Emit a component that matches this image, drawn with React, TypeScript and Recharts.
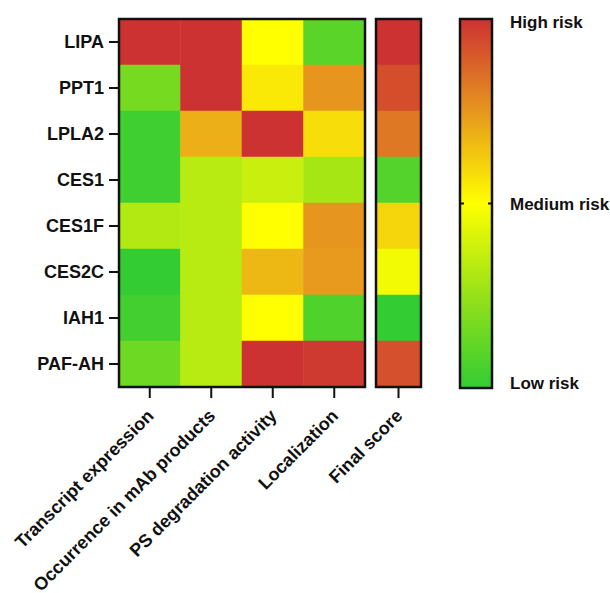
import React from "react";
import {
  BarChart,
  Bar,
  XAxis,
  YAxis,
  Cell,
  ReferenceLine,
} from "recharts";

// ─── Data ──────────────────────────────────────────────────────────────────
// risk score per enzyme, 0 = low risk, 0.5 = medium, 1 = high risk
const enzymes = ["LIPA", "PPT1", "LPLA2", "CES1", "CES1F", "CES2C", "IAH1", "PAF-AH"];
const criteria = [
  "Transcript expression",
  "Occurrence in mAb products",
  "PS degradation activity",
  "Localization",
];
const transcriptExpression = [1, 0.17, 0.03, 0.03, 0.32, 0.0, 0.04, 0.15];
const occurrenceInMAb = [1, 1, 0.69, 0.33, 0.33, 0.33, 0.33, 0.33];
const psDegradation = [0.5, 0.555, 1, 0.37, 0.5, 0.67, 0.5, 1];
const localization = [0.1, 0.75, 0.58, 0.29, 0.75, 0.74, 0.07, 0.98];
const finalScore = [1, 0.93, 0.825, 0.08, 0.6, 0.47, 0.0, 0.925];
const scaleTicks = [0, 0.5, 1];
const scaleLabels = ["Low risk", "Medium risk", "High risk"];

const series = [transcriptExpression, occurrenceInMAb, psDegradation, localization];

// ─── Colour scale ──────────────────────────────────────────────────────────
const STOPS: [number, number[]][] = [
  [0, [51, 204, 51]],
  [0.25, [150, 225, 25]],
  [0.5, [255, 255, 0]],
  [0.75, [230, 150, 30]],
  [1, [205, 50, 50]],
];

function riskColor(v: number) {
  for (let i = 1; i < STOPS.length; i++) {
    const [t1, c1] = STOPS[i];
    const [t0, c0] = STOPS[i - 1];
    if (v <= t1) {
      const f = (v - t0) / (t1 - t0);
      const c = c0.map((a, k) => Math.round(a + (c1[k] - a) * f));
      return `rgb(${c[0]},${c[1]},${c[2]})`;
    }
  }
  const c = STOPS[STOPS.length - 1][1];
  return `rgb(${c[0]},${c[1]},${c[2]})`;
}

const FONT = "'Liberation Sans', Arial, sans-serif";
const INK = "#111";
const W = 610;
const H = 593;
const TOP = 19;
const XAXIS_H = 206;
const FS = 18;

const heatRows = enzymes.map((name) => ({ name, c0: 1, c1: 1, c2: 1, c3: 1 }));
const finalRows = enzymes.map((name) => ({ name, f: 1 }));
const scaleRows = [{ name: "scale", v: 1 }];

function SlantTick(props: any) {
  const { x, y, payload, labels } = props;
  const ax = x + 5;
  const ay = y + 17;
  const label = labels[Math.floor(payload.value)];
  return (
    <text
      x={ax}
      y={ay}
      textAnchor="end"
      transform={`rotate(-45 ${ax} ${ay})`}
      fill={INK}
      fontSize={FS}
      fontWeight={700}
      fontFamily={FONT}
    >
      {label}
    </text>
  );
}

function RiskTick(props: any) {
  const { x, y, payload } = props;
  const i = scaleTicks.indexOf(payload.value);
  const shift = payload.value === 1 ? 9 : payload.value === 0 ? 1 : 6;
  return (
    <text
      x={x}
      y={y + shift}
      textAnchor="start"
      fill={INK}
      fontSize={17}
      fontWeight={700}
      fontFamily={FONT}
    >
      {scaleLabels[i]}
    </text>
  );
}

// black frame drawn in its own layer so it sits over the cells
function Frame({ left, right, max }: { left: number; right: number; max: number }) {
  return (
    <BarChart
      width={W}
      height={H}
      data={[{ name: "frame", v: max }]}
      layout="vertical"
      margin={{ top: TOP, right: W - right, bottom: H - 387, left }}
      barCategoryGap={0}
    >
      <XAxis type="number" domain={[0, max]} hide />
      <YAxis type="category" dataKey="name" hide />
      <Bar
        dataKey="v"
        fill="none"
        stroke={INK}
        strokeWidth={2.5}
        isAnimationActive={false}
      />
    </BarChart>
  );
}

export default function App() {
  const layer: React.CSSProperties = { position: "absolute", left: 0, top: 0 };
  return (
    <div
      style={{
        position: "absolute",
        left: 0,
        top: 0,
        width: W,
        height: H,
        background: "#fff",
        fontFamily: FONT,
      }}
    >
      {/* main heatmap */}
      <div style={layer}>
        <BarChart
          width={W}
          height={H}
          data={heatRows}
          layout="vertical"
          margin={{ top: TOP, right: W - 365, bottom: 0, left: 0 }}
          barCategoryGap={0}
        >
          <XAxis
            type="number"
            domain={[0, 4]}
            ticks={[0.5, 1.5, 2.5, 3.5]}
            height={XAXIS_H}
            axisLine={false}
            tickSize={11}
            tickLine={{ stroke: INK, strokeWidth: 2 }}
            tick={<SlantTick labels={criteria} />}
            interval={0}
          />
          <YAxis
            type="category"
            dataKey="name"
            width={119}
            axisLine={false}
            tickSize={10}
            tickMargin={5}
            tickLine={{ stroke: INK, strokeWidth: 2 }}
            tick={{ fill: INK, fontSize: FS, fontWeight: 700, fontFamily: FONT }}
            interval={0}
          />
          {series.map((vals, s) => (
            <Bar key={s} dataKey={`c${s}`} stackId="a" isAnimationActive={false}>
              {vals.map((v, i) => (
                <Cell key={i} fill={riskColor(v)} stroke={riskColor(v)} strokeWidth={0.5} />
              ))}
            </Bar>
          ))}
        </BarChart>
      </div>

      {/* final score column */}
      <div style={layer}>
        <BarChart
          width={W}
          height={H}
          data={finalRows}
          layout="vertical"
          margin={{ top: TOP, right: W - 421, bottom: 0, left: 376 }}
          barCategoryGap={0}
        >
          <XAxis
            type="number"
            domain={[0, 1]}
            ticks={[0.5]}
            height={XAXIS_H}
            axisLine={false}
            tickSize={11}
            tickLine={{ stroke: INK, strokeWidth: 2 }}
            tick={<SlantTick labels={["Final score"]} />}
          />
          <YAxis type="category" dataKey="name" hide />
          <Bar dataKey="f" isAnimationActive={false}>
            {finalScore.map((v, i) => (
              <Cell key={i} fill={riskColor(v)} stroke={riskColor(v)} strokeWidth={0.5} />
            ))}
          </Bar>
        </BarChart>
      </div>

      <div style={layer}>
        <Frame left={119} right={365} max={4} />
      </div>
      <div style={layer}>
        <Frame left={376} right={421} max={1} />
      </div>

      {/* colour scale */}
      <div style={layer}>
        <BarChart
          width={W}
          height={H}
          data={scaleRows}
          margin={{ top: TOP, right: 0, bottom: H - 388, left: 460 }}
          barCategoryGap={0}
        >
          <defs>
            <linearGradient id="riskGrad" x1="0" y1="0" x2="0" y2="1">
              {[...STOPS].reverse().map(([t]) => (
                <stop key={t} offset={`${(1 - t) * 100}%`} stopColor={riskColor(t)} />
              ))}
            </linearGradient>
          </defs>
          <XAxis type="category" dataKey="name" hide />
          <YAxis
            orientation="right"
            type="number"
            domain={[0, 1]}
            ticks={scaleTicks}
            width={118}
            axisLine={false}
            tickLine={false}
            tickSize={0}
            tickMargin={18}
            tick={<RiskTick />}
            interval={0}
          />
          <Bar
            dataKey="v"
            fill="url(#riskGrad)"
            stroke={INK}
            strokeWidth={2.5}
            isAnimationActive={false}
          />
          <ReferenceLine
            y={0.5}
            stroke={INK}
            strokeWidth={2}
            strokeDasharray="4 24 4"
          />
        </BarChart>
      </div>
    </div>
  );
}
